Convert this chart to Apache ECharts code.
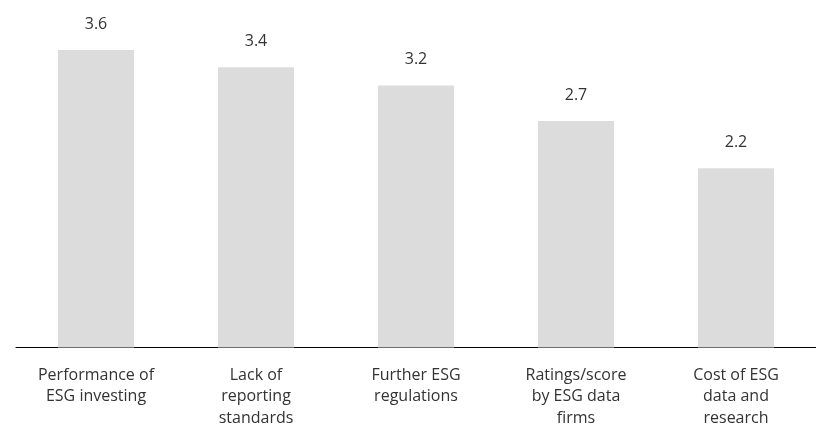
<!DOCTYPE html>
<html><head><meta charset="utf-8">
<script src="https://cdn.jsdelivr.net/npm/echarts@6/dist/echarts.min.js"></script>
<style>html,body{margin:0;padding:0;background:#fff}#c{width:816px;height:429px}</style>
</head><body><div id="c"></div>
<script>
const categories = ["Performance of\nESG investing","Lack of\nreporting\nstandards","Further ESG\nregulations","Ratings/score\nby ESG data\nfirms","Cost of ESG\ndata and\nresearch"];
const values = [3.6, 3.39, 3.17, 2.74, 2.17];
const chart = echarts.init(document.getElementById('c'));
chart.setOption({
  animation:false,
  grid:{left:16,right:0,top:50,bottom:77},
  xAxis:{type:'category',data:categories,
    axisLine:{lineStyle:{color:'#000',width:1}},
    axisTick:{show:false},
    axisLabel:{color:'#333',fontSize:16,fontFamily:'Open Sans',lineHeight:21.5,margin:17,interval:0}},
  yAxis:{type:'value',min:0,max:3.6,show:false,splitLine:{show:false}},
  series:[{type:'bar',data:values,barWidth:76,itemStyle:{color:'#dcdcdc'},
    label:{show:true,position:'top',distance:18,color:'#333',fontSize:16,fontFamily:'Open Sans',formatter:p=>p.value.toFixed(1)}}]
});
</script></body></html>
